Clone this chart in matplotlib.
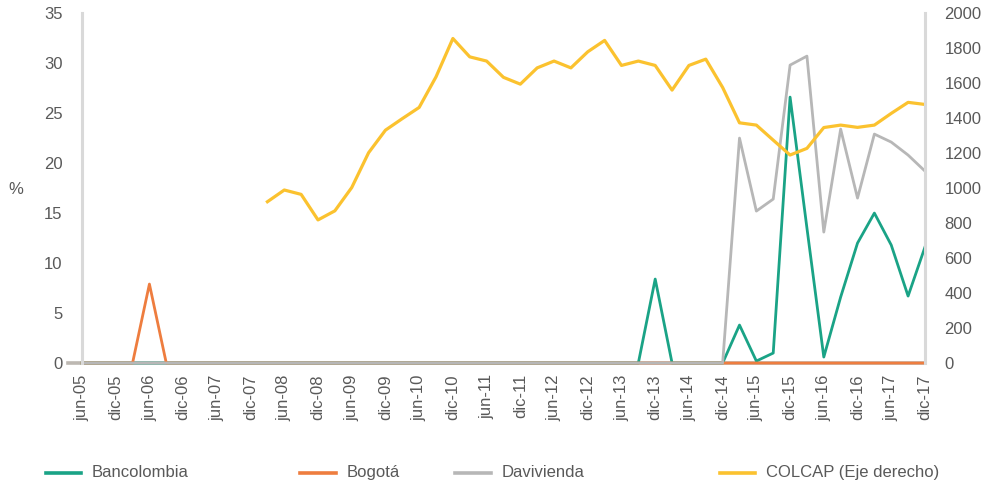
import numpy as np
import matplotlib
matplotlib.use("Agg")
import matplotlib.pyplot as plt
from matplotlib.lines import Line2D

plt.rcParams['font.family'] = ['Liberation Sans', 'DejaVu Sans']

# quarterly data, jun-05 ... dic-17 (51 quarters)
tick_labels = ["jun-05", "dic-05", "jun-06", "dic-06", "jun-07", "dic-07",
               "jun-08", "dic-08", "jun-09", "dic-09", "jun-10", "dic-10",
               "jun-11", "dic-11", "jun-12", "dic-12", "jun-13", "dic-13",
               "jun-14", "dic-14", "jun-15", "dic-15", "jun-16", "dic-16",
               "jun-17", "dic-17"]

bancolombia = [0] * 34 + [8.4, 0, 0, 0, 0, 3.8, 0.2, 1.0, 26.6, 13.5,
                          0.6, 6.6, 12.0, 15.0, 11.8, 6.7, 11.6]
bogota = [0, 0, 0, 0, 7.9] + [0] * 46
davivienda = [0] * 39 + [22.5, 15.2, 16.4, 29.8, 30.7, 13.1, 23.4,
                         16.5, 22.9, 22.1, 20.8, 19.2]
colcap = [np.nan] * 11 + [922, 989, 964, 818, 870, 1003, 1202, 1331, 1397, 1461,
                          1636, 1855, 1750, 1726, 1633, 1594, 1687, 1726, 1687, 1779,
                          1844, 1701, 1726, 1701, 1560, 1701, 1737, 1575, 1373, 1360,
                          1274, 1189, 1227, 1346, 1360, 1347, 1360, 1427, 1490, 1478]

names = ["Bancolombia", "Bogotá", "Davivienda", "COLCAP (Eje derecho)"]
colors = ["#1aa386", "#ee7d3f", "#b7b7b7", "#fbc22f"]
txt = "#595959"
axis_c = "#d9d9d9"

x = np.arange(len(bancolombia))

fig = plt.figure(figsize=(9.9, 4.86), dpi=100)
ax = fig.add_axes([0.0828, 0.253, 0.8515, 0.72])
ax2 = ax.twinx()

ax.plot(x, bancolombia, color=colors[0], lw=2.0, clip_on=False)
ax.plot(x, bogota, color=colors[1], lw=2.0, clip_on=False)
ax.plot(x, davivienda, color=colors[2], lw=2.0, clip_on=False)
ax2.plot(x, colcap, color=colors[3], lw=2.3)

ax.set_xlim(0, 50)
ax.set_ylim(0, 35)
ax2.set_ylim(0, 2000)
ax.set_yticks(np.arange(0, 36, 5))
ax2.set_yticks(np.arange(0, 2001, 200))
ax.set_xticks(np.arange(0, 51, 2))
ax.set_xticklabels(tick_labels, rotation=90)

for a in (ax, ax2):
    for s in a.spines.values():
        s.set_visible(False)
    a.tick_params(length=0, labelsize=12, labelcolor=txt)
ax.tick_params(axis='y', pad=14)
ax.tick_params(axis='x', pad=8)
ax2.tick_params(axis='y', pad=14)

ax.spines['left'].set_visible(True)
ax.spines['left'].set_color(axis_c)
ax.spines['left'].set_linewidth(2.2)
ax2.spines['right'].set_visible(True)
ax2.spines['right'].set_color(axis_c)
ax2.spines['right'].set_linewidth(2.2)

# category axis line, slightly extended past the value axis
ax.add_line(Line2D([-0.017, 1.0], [0, 0], transform=ax.transAxes, color="#bdb8b2",
                   lw=2.6, clip_on=False, zorder=1.5))

fig.text(0.008, 0.6, "%", fontsize=12, color=txt)

# legend
leg_x = [0.046, 0.303, 0.46, 0.727]
for lx, name, c in zip(leg_x, names, colors):
    fig.add_artist(Line2D([lx, lx + 0.036], [0.027, 0.027], color=c, lw=2.6))
    fig.text(lx + 0.047, 0.027, name, fontsize=12, color=txt, va='center')

fig.savefig("out.png", dpi=100)
